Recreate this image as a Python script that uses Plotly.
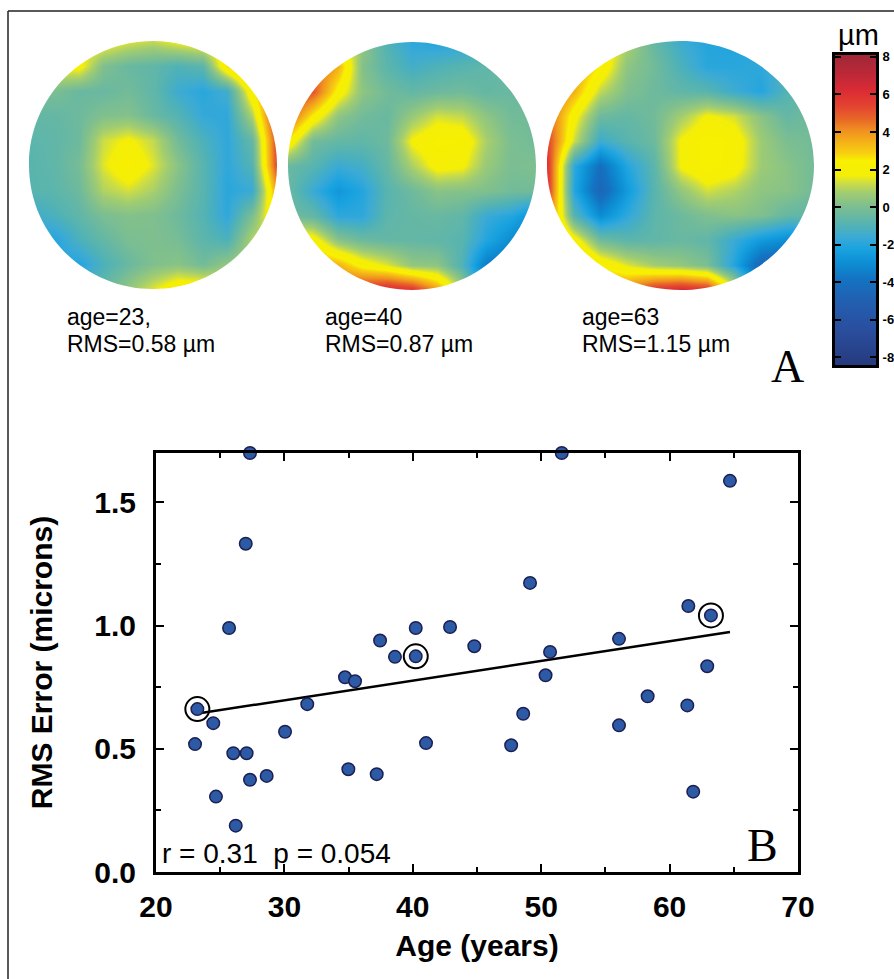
import plotly.graph_objects as go

W, H = 894, 979

# ---------------- data: scatter (panel B) ----------------
age = [27.32, 26.99, 25.69, 37.45, 38.61, 34.72, 35.50, 23.22, 31.78, 24.46,
       30.05, 23.04, 26.02, 27.06, 34.98, 37.19, 27.32, 28.62, 24.67, 26.21,
       51.60, 64.70, 49.13, 61.46, 63.22, 40.23, 42.90, 44.79, 40.23, 50.69,
       56.06, 50.34, 62.93, 58.29, 61.38, 48.60, 56.06, 41.03, 47.66, 61.84]
rms = [1.70, 1.332, 0.99, 0.939, 0.873, 0.79, 0.774, 0.661, 0.681, 0.604,
       0.569, 0.519, 0.482, 0.482, 0.417, 0.397, 0.374, 0.39, 0.306, 0.188,
       1.70, 1.587, 1.173, 1.079, 1.041, 0.99, 0.994, 0.916, 0.875, 0.893,
       0.946, 0.798, 0.835, 0.713, 0.676, 0.642, 0.595, 0.523, 0.514, 0.326]
circled_age = [23.22, 40.23, 63.22]
circled_rms = [0.661, 0.875, 1.041]
fit_age = [23.0, 64.7]
fit_rms = [0.641, 0.974]
x_ticks = [20, 30, 40, 50, 60, 70]
y_ticks = [0.0, 0.5, 1.0, 1.5]
stats_text = "r = 0.31\u00a0\u00a0p = 0.054"

# ---------------- data: wavefront maps (panel A), µm ----------------
grid_u = [-1.0, -0.8, -0.6, -0.4, -0.2, 0.0, 0.2, 0.4, 0.6, 0.8, 1.0]
grid_v_top_to_bottom = [1.0, 0.8, 0.6, 0.4, 0.2, 0.0, -0.2, -0.4, -0.6, -0.8, -1.0]

map_age23 = [
    [1.5, 1.5, 1.8, 2.0, 1.5, 1.2, 1.8, 2.2, 2.5, 3.5, 4.5],
    [1.8, 1.8, 2.0, 0.1, -0.4, -0.6, -1.0, -0.7, 2.8, 4.5, 5.0],
    [-0.2, 0.0, -0.4, -0.4, -0.2, -0.6, -1.5, -1.9, -1.4, 2.5, 5.0],
    [-0.5, -0.5, -0.3, 0.1, 0.2, -0.4, -0.9, -1.7, -1.8, 1.0, 6.0],
    [-0.7, -0.6, -0.3, 1.3, 1.8, 1.2, -0.2, -1.1, -1.8, -0.5, 5.5],
    [-0.8, -0.6, -0.1, 1.5, 2.4, 1.5, 0.3, -0.8, -1.8, -0.9, 5.5],
    [-0.8, -0.7, -0.3, 1.0, 1.4, 0.9, 0.0, -0.8, -1.9, -1.6, 4.0],
    [-1.5, -1.1, -0.6, 0.0, 0.2, 0.1, -0.3, -0.9, -1.8, 0.0, 3.0],
    [-2.0, -2.0, -1.1, -0.5, 0.0, 0.1, -0.1, -0.7, -1.1, 1.0, 1.5],
    [-2.0, -2.0, -2.0, -1.1, -0.4, 0.1, 0.3, -0.2, 0.5, 1.0, 1.0],
    [-2.0, -2.0, -1.5, -0.5, 0.5, 1.5, 2.5, 2.5, 1.5, 1.0, 1.0],
]
map_age40 = [
    [3.0, 2.5, 2.0, 0.5, -1.0, -1.8, -2.0, -1.8, -1.5, -1.0, -0.5],
    [5.0, 5.0, 3.5, 0.2, -0.7, -1.3, -1.0, -0.8, -0.6, -0.4, -0.2],
    [6.0, 5.0, 2.2, 0.4, -0.2, -0.5, -0.3, -0.2, -0.5, -0.4, -0.2],
    [5.0, 2.4, 0.4, -0.2, -0.4, 0.6, 1.4, 1.2, 0.4, -0.2, -0.2],
    [2.5, -0.2, -0.5, -0.6, -0.3, 1.8, 2.4, 2.3, 0.9, 0.0, -0.2],
    [-0.4, -0.8, -1.6, -1.3, -0.5, 0.9, 2.0, 1.8, 0.6, 0.0, 0.1],
    [-0.4, -1.6, -2.6, -2.0, -0.8, -0.3, 0.3, 0.2, 0.1, -0.2, -0.2],
    [-0.2, -0.5, -1.8, -1.8, -0.7, -0.5, -0.4, -0.6, -1.6, -2.0, -3.0],
    [3.0, 2.2, 0.3, -0.3, -0.5, -0.5, -0.6, -0.8, -2.0, -3.0, -4.0],
    [4.0, 4.0, 3.5, 2.2, 1.5, 0.5, 0.4, -1.0, -3.5, -4.0, -4.0],
    [4.0, 4.5, 5.0, 6.0, 6.5, 6.0, 4.0, 1.0, -3.0, -4.0, -4.0],
]
map_age63 = [
    [3.0, 3.0, 2.5, 1.0, -0.5, -1.5, -2.0, -2.0, -2.0, -1.0, 0.0],
    [4.0, 4.0, 2.5, 0.4, -0.2, -1.1, -1.9, -1.9, -1.8, -1.0, -0.2],
    [5.0, 3.5, 1.2, 0.1, -0.3, -0.6, -0.8, -1.5, -2.0, -0.9, -0.2],
    [5.0, 2.0, -0.3, -0.5, -0.2, 0.8, 1.8, 1.4, 0.3, -0.5, -0.2],
    [5.5, 1.3, -1.5, -0.8, -0.3, 1.8, 2.5, 2.2, 0.7, 0.0, -0.2],
    [6.0, -1.8, -4.0, -2.0, -0.7, 1.8, 2.5, 2.1, 0.7, 0.3, -0.2],
    [6.0, -2.0, -4.5, -2.5, -0.8, 0.5, 1.4, 1.0, 0.4, 0.3, -0.2],
    [5.0, -0.9, -3.0, -1.8, -0.7, -0.3, 0.1, 0.3, 0.1, -0.5, -0.6],
    [4.0, 2.2, -0.2, -0.7, -0.6, -0.4, -0.6, -1.6, -2.5, -3.0, -3.0],
    [4.0, 4.0, 2.5, 1.5, 0.8, 0.5, 0.0, -2.0, -4.5, -5.0, -4.0],
    [4.0, 4.0, 4.0, 4.5, 6.0, 6.5, 6.0, 2.0, -4.0, -5.0, -4.0],
]
map_labels = [("age=23,", "RMS=0.58 µm"), ("age=40", "RMS=0.87 µm"), ("age=63", "RMS=1.15 µm")]
cbar_ticks = [-8, -6, -4, -2, 0, 2, 4, 6, 8]
cbar_ticktext = ["-8", "-6", "-4", "-2", "0", "2", "4", "6", "8"]
z_min, z_max = -8.4, 8.1

# colour scale (value in µm -> colour)
cs_values = [-8.4, -6.5, -5.0, -3.8, -3.0, -2.2, -1.6, -1.0, -0.4, 0.2, 0.8, 1.3, 1.7,
             2.5, 2.9, 3.5, 4.1, 4.7, 5.4, 6.2, 7.0, 8.1]
cs_colors = ["#263a7e", "#2a4e9e", "#225fb0", "#1472c2", "#0c8cd2", "#18a2e0", "#3aaad6",
             "#50b2b6", "#69b8a1", "#84c18a", "#a2cd70", "#cadc48", "#f4ee08", "#f8f000",
             "#f8d010", "#f4b018", "#f09020", "#e86828", "#e44430", "#dc2c34", "#c02838",
             "#a02838"]
colorscale = [[(v - z_min) / (z_max - z_min), c] for v, c in zip(cs_values, cs_colors)]


def px(x):
    return x / W


def py(y):
    return 1 - y / H


fig = go.Figure()

# ---------------- panel A: three wavefront maps ----------------
map_boxes = [(29, 277, 41, 289), (288, 536, 42, 290), (547, 814, 41, 290)]
maps = [map_age23, map_age40, map_age63]
grid_v = grid_v_top_to_bottom[::-1]
k = 0.5523
circle_path = (f"M 1 0 C 1 {k}, {k} 1, 0 1 C {-k} 1, -1 {k}, -1 0 "
               f"C -1 {-k}, {-k} -1, 0 -1 C {k} -1, 1 {-k}, 1 0 Z")
mask_path = "M -1.02 -1.02 L 1.02 -1.02 L 1.02 1.02 L -1.02 1.02 Z " + circle_path

hidden = dict(visible=False, fixedrange=True, automargin=False, showgrid=False, zeroline=False)
shapes = []
for i, (zgrid, box) in enumerate(zip(maps, map_boxes)):
    n = i + 2
    xa, ya = f"x{n}", f"y{n}"
    fig.add_trace(go.Heatmap(
        z=zgrid[::-1], x=grid_u, y=grid_v, coloraxis="coloraxis",
        zsmooth="best", xaxis=xa, yaxis=ya, hoverinfo="skip"))
    x0, x1, y0, y1 = box
    fig.update_layout(**{
        f"xaxis{n}": dict(domain=[px(x0), px(x1)], range=[-1, 1], anchor=ya, **hidden),
        f"yaxis{n}": dict(domain=[py(y1), py(y0)], range=[-1, 1], anchor=xa, **hidden),
    })
    shapes.append(dict(type="path", path=mask_path, xref=xa, yref=ya, fillcolor="white",
                       fillrule="evenodd", line=dict(width=0), layer="above"))

# colour bar drawn as its own small heatmap axis (gradient through the scale stops)
fig.add_trace(go.Heatmap(z=[[v, v] for v in cs_values], x=[0, 1], y=cs_values,
                         coloraxis="coloraxis", zsmooth="best", xaxis="x5", yaxis="y5",
                         hoverinfo="skip"))
fig.update_layout(
    xaxis5=dict(domain=[px(835), px(876)], range=[0, 1], anchor="y5",
                showticklabels=False, ticks="",
                showline=True, linewidth=3, linecolor="black", mirror=True,
                showgrid=False, zeroline=False, automargin=False, fixedrange=True),
    yaxis5=dict(domain=[py(365), py(55)], range=[z_min, z_max], side="right", anchor="x5",
                tickvals=cbar_ticks, ticktext=cbar_ticktext,
                ticks="inside", ticklen=6, tickwidth=2, tickcolor="black",
                showline=True, linewidth=3, linecolor="black", mirror="ticks",
                showgrid=False, zeroline=False, automargin=False, fixedrange=True,
                ticklabelstandoff=1,
                tickfont=dict(family="Liberation Sans, Arial, sans-serif", size=13,
                              color="black", weight="bold")),
)

# ---------------- panel B: scatter ----------------
fig.add_trace(go.Scatter(x=fit_age, y=fit_rms, mode="lines",
                         line=dict(color="black", width=2.5), xaxis="x", yaxis="y",
                         showlegend=False))
fig.add_trace(go.Scatter(x=age, y=rms, mode="markers", cliponaxis=False,
                         marker=dict(size=12.5, color="#2d5aa5",
                                     line=dict(color="#1b1f52", width=1.5)),
                         xaxis="x", yaxis="y", showlegend=False))
fig.add_trace(go.Scatter(x=circled_age, y=circled_rms, mode="markers", cliponaxis=False,
                         marker=dict(size=24, symbol="circle-open", color="black",
                                     line=dict(color="black", width=2)),
                         xaxis="x", yaxis="y", showlegend=False))

bold = dict(family="Liberation Sans, Arial, sans-serif", size=30, color="black", weight="bold")
fig.update_layout(
    xaxis=dict(domain=[px(156), px(798)], range=[20, 70], tickvals=x_ticks, anchor="y",
               ticks="inside", ticklen=8, tickwidth=2, tickcolor="black",
               minor=dict(dtick=5, tick0=20, ticks="inside", ticklen=5, tickwidth=2, tickcolor="black"),
               showline=True, linewidth=3, linecolor="black", mirror="allticks",
               showgrid=False, zeroline=False, tickfont=bold, automargin=False,
               ticklabelstandoff=6,
               title=dict(text="Age (years)", font=bold, standoff=13)),
    yaxis=dict(domain=[py(872), py(453)], range=[0, 1.7], tickvals=y_ticks, tickformat=".1f",
               anchor="x",
               ticks="inside", ticklen=8, tickwidth=2, tickcolor="black",
               minor=dict(dtick=0.25, tick0=0, ticks="inside", ticklen=5, tickwidth=2, tickcolor="black"),
               showline=True, linewidth=3, linecolor="black", mirror="allticks",
               showgrid=False, zeroline=False, tickfont=bold, automargin=False,
               ticklabelstandoff=11,
               title=dict(text="RMS Error (microns)", font=bold, standoff=33)),
)

fig.update_layout(coloraxis=dict(colorscale=colorscale, cmin=z_min, cmax=z_max, showscale=False))

annotations = []
reg = dict(family="Liberation Sans, Arial, sans-serif", size=23, color="black")
for (l1, l2), xl in zip(map_labels, [65, 323, 580]):
    annotations.append(dict(text=l1, x=px(xl), y=py(317), xref="paper", yref="paper",
                            xanchor="left", yanchor="middle", showarrow=False, font=reg))
    annotations.append(dict(text=l2, x=px(xl), y=py(344), xref="paper", yref="paper",
                            xanchor="left", yanchor="middle", showarrow=False, font=reg))
annotations.append(dict(text="µm", x=px(858), y=py(35), xref="paper", yref="paper",
                        xanchor="center", yanchor="middle", showarrow=False,
                        font=dict(family="Liberation Sans, Arial, sans-serif", size=29, color="black")))
serif = dict(family="Liberation Serif, Times New Roman, serif", size=46, color="black")
annotations.append(dict(text="A", x=px(787), y=py(367), xref="paper", yref="paper",
                        xanchor="center", yanchor="middle", showarrow=False, font=serif))
annotations.append(dict(text="B", x=px(762), y=py(845), xref="paper", yref="paper",
                        xanchor="center", yanchor="middle", showarrow=False, font=serif))
annotations.append(dict(text=stats_text, x=px(160), y=py(853), xref="paper", yref="paper",
                        xanchor="left", yanchor="middle", showarrow=False,
                        font=dict(family="Liberation Sans, Arial, sans-serif", size=28, color="black")))

# outer frame (top and left edges visible)
shapes.append(dict(type="line", xref="paper", yref="paper", x0=px(8), x1=1, y0=py(11), y1=py(11),
                   line=dict(color="#222", width=1.5)))
shapes.append(dict(type="line", xref="paper", yref="paper", x0=px(8), x1=px(8), y0=py(11), y1=0,
                   line=dict(color="#222", width=1.5)))

fig.update_layout(width=W, height=H, margin=dict(l=0, r=0, t=0, b=0, autoexpand=False),
                  paper_bgcolor="white", plot_bgcolor="white", showlegend=False,
                  shapes=shapes, annotations=annotations)

fig.write_html("out.html", config={"displayModeBar": False},
               post_script="document.body.style.margin='0';")
